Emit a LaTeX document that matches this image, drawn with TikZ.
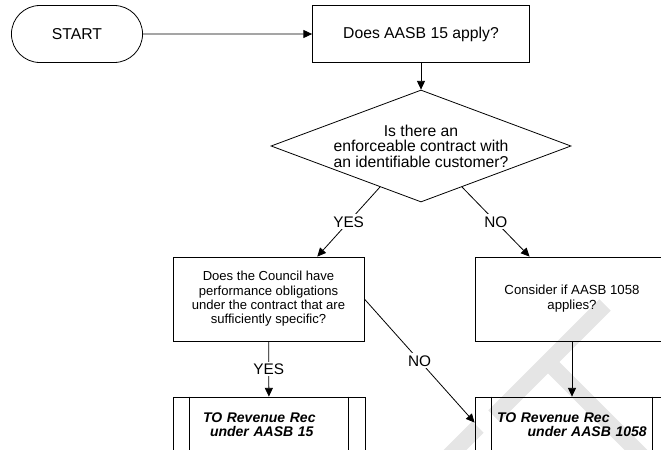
\documentclass[tikz,border=0pt]{standalone}
\usepackage{fontspec}
\setmainfont{Liberation Sans}
\usetikzlibrary{arrows.meta,calc,positioning,shapes.geometric,shapes.misc}

\begin{document}
\begin{tikzpicture}[
                x=0.75pt, y=-0.75pt,
                line width=0.6pt,
                >={Triangle[length=6.5pt,width=6pt]},
                every node/.style={align=center},
                terminal/.style={draw, rounded rectangle, minimum width=105pt, minimum height=42.75pt, font=\fontsize{11.8}{12}\selectfont},
                process/.style={draw, rectangle, inner sep=0pt},
                decision/.style={draw, diamond, inner sep=0pt, shape aspect=2.7, minimum width=225pt, minimum height=84pt, font=\fontsize{11.8}{11.6}\selectfont},
                question/.style={process, minimum height=63pt, font=\fontsize{9.8}{10.8}\selectfont},
                subproc/.style={process, align=left, minimum height=42pt, font=\fontsize{10.5}{10.5}\selectfont\bfseries\itshape},
                answer/.style={fill=white, inner sep=1.5pt, font=\fontsize{11.5}{12}\selectfont}
            ]

            \useasboundingbox (0,0) rectangle (661,450);
            \clip (0,0) rectangle (661,450);

            % faint watermark behind the chart
            \draw[black!10, line width=12pt] (494,416) -- (605,305) (548,362) -- (665,479) (428,477) -- (478,427);

            % draw the steps
            \node[terminal] at (77,34) (start) {START};
            \node[process, minimum width=162.75pt, minimum height=42.75pt, font=\fontsize{11.8}{12}\selectfont] at (421,34) (apply) {Does AASB 15 apply?};
            \node[decision] at (421,146) (contract) {Is there an\\enforceable contract with\\an identifiable customer?};
            \node[question, minimum width=143.25pt] at (268.5,299) (council) {Does the Council have\\performance obligations\\under the contract that are\\sufficiently specific?};
            \node[question, minimum width=145.5pt, font=\fontsize{9.9}{11.2}\selectfont] at (572,299) (consider) {Consider if AASB 1058\\applies?};
            \node[subproc, text width=99pt, inner xsep=22.5pt] at (269,425) (rec15) {TO Revenue Rec\\\hspace*{5.25pt}under AASB 15};
            \node[subproc, text width=112.5pt, inner xsep=16.5pt] at (572,425) (rec1058) {TO Revenue Rec\\\hspace*{23pt}under AASB 1058};

            % side bars of the sub-process boxes
            \foreach \p in {rec15, rec1058} {
                \draw ([xshift=12.5pt]\p.north west) -- ([xshift=12.5pt]\p.south west);
                \draw ([xshift=-12.5pt]\p.north east) -- ([xshift=-12.5pt]\p.south east);
            }

            % connectors
            \draw[->] (start) -- (apply);
            \draw[->] (apply) -- (contract);
            \draw[->] (contract.-135) -- node[answer] {YES} (council.41);
            \draw[->] (contract.-45) -- node[answer] {NO} (consider.135);
            \draw[->] (council) -- node[answer] {YES} (rec15);
            \draw[->] (council.east) -- node[answer] {NO} ([yshift=-19.5pt]rec1058.north west);
            \draw[->] (consider) -- (rec1058);
        \end{tikzpicture}
\end{document}
